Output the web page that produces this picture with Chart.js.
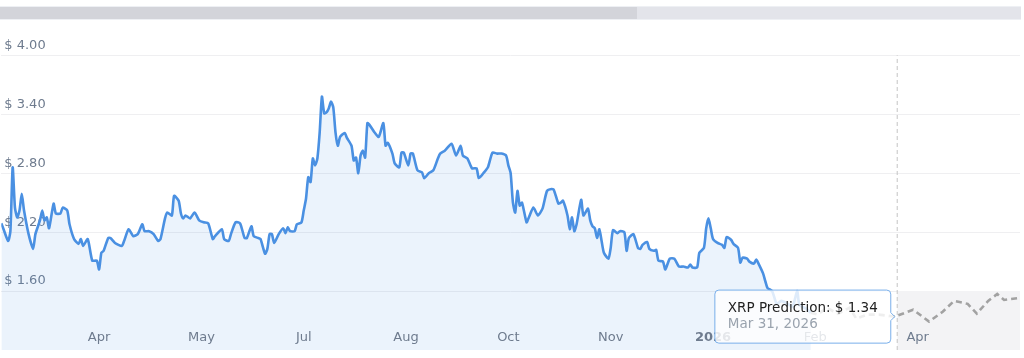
<!DOCTYPE html>
<html><head><meta charset="utf-8">
<script src="https://cdn.jsdelivr.net/npm/chart.js@4"></script>
<style>
html,body{margin:0;padding:0;background:#fff;}
#wrap{position:relative;width:1024px;height:358px;overflow:hidden;}
canvas{position:absolute;left:0;top:0;}
#bar{position:absolute;left:0;top:6px;width:1021px;height:12px;border-top:1px solid #eef0f4;border-bottom:1px solid #eef0f4;display:flex;}
#bar .a{width:637px;background:#d3d4da;}
#bar .b{flex:1;background:#e3e4ea;}
</style></head><body>
<div id="wrap"><canvas id="c" width="1024" height="358"></canvas><div id="bar"><div class="a"></div><div class="b"></div></div></div>
<script>
// Days counted from 2025-03-01
const START = Date.UTC(2025, 2, 1);
const histDays = [2,3,5,6,7,8,9,10,11,12,14,16,17,19,20,21,22,23,25,26,28,29,31,32,34,36,37,38,40,42,44,45,46,47,49,50,52,55,56,58,60,62,64,65,67,69,71,72,74,75,77,78,80,81,82,83,85,87,89,91,93,95,96,99,100,102,103,105,107,109,110,112,113,115,116,118,119,120,121,122,124,126,127,128,129,131,132,134,135,136,137,138,139,140,141,142,143,144,145,146,147,148,149,150,151,153,154,156,157,158,159,160,161,162,163,164,166,168,170,171,172,174,175,177,178,179,181,182,183,185,187,188,190,192,194,195,197,200,202,204,205,207,209,211,212,214,216,218,220,222,224,225,226,227,228,229,230,231,233,234,236,238,240,242,244,245,247,248,249,251,252,253,254,255,257,258,260,261,262,263,264,265,266,267,269,270,271,273,274,276,277,278,280,282,283,284,286,287,289,290,291,293,294,296,298,300,302,304,305,306,308,309,311,312,313,314,315,317,319,320,321,323,324,326,327,328,330,331,333,334,335,337,338,339,341,343,345,348,350,352,353,356,358];
const histValues = [2.29,2.23,2.11,2.21,2.86,2.45,2.35,2.42,2.59,2.42,2.18,2.03,2.18,2.32,2.42,2.32,2.35,2.24,2.49,2.39,2.39,2.45,2.42,2.28,2.13,2.08,2.13,2.06,2.13,1.91,1.91,1.82,1.99,2.01,2.14,2.14,2.09,2.06,2.11,2.23,2.16,2.18,2.28,2.21,2.21,2.18,2.11,2.13,2.34,2.40,2.37,2.57,2.52,2.39,2.34,2.37,2.34,2.40,2.32,2.30,2.29,2.13,2.16,2.23,2.13,2.11,2.18,2.30,2.29,2.14,2.14,2.26,2.16,2.14,2.13,1.98,2.03,2.18,2.18,2.09,2.18,2.24,2.19,2.25,2.21,2.21,2.28,2.30,2.42,2.54,2.76,2.71,2.95,2.88,2.95,3.21,3.58,3.41,3.42,3.46,3.53,3.47,3.21,3.08,3.17,3.21,3.16,3.08,2.93,2.96,2.80,2.98,3.03,2.96,3.31,3.29,3.22,3.17,3.31,3.08,3.11,3.00,2.90,2.86,3.01,3.01,2.88,3.00,3.00,2.83,2.81,2.75,2.80,2.83,2.95,3.00,3.03,3.10,2.98,3.08,2.98,2.95,2.85,2.85,2.75,2.80,2.86,3.01,3.00,3.00,2.98,2.88,2.80,2.50,2.40,2.62,2.47,2.50,2.30,2.35,2.45,2.37,2.44,2.62,2.64,2.63,2.49,2.50,2.52,2.37,2.23,2.35,2.21,2.28,2.53,2.37,2.44,2.32,2.26,2.24,2.14,2.23,2.11,1.99,1.93,2.04,2.22,2.19,2.21,2.20,2.01,2.14,2.18,2.04,2.03,2.07,2.10,2.03,2.01,2.02,1.91,1.90,1.82,1.93,1.93,1.85,1.85,1.84,1.87,1.84,1.84,1.99,2.04,2.24,2.34,2.24,2.13,2.09,2.07,2.04,2.15,2.12,2.08,2.04,1.89,1.94,1.93,1.90,1.88,1.92,1.88,1.78,1.70,1.63,1.60,1.47,1.50,1.47,1.44,1.60,1.46,1.42,1.38];
const predDays = [358,361,365,370,375,378,383,388,395,403,410,416,421,427,431,436,440,443,450];
const predValues = [1.38,1.36,1.43,1.37,1.43,1.32,1.36,1.36,1.34,1.41,1.29,1.39,1.50,1.47,1.37,1.50,1.57,1.51,1.53];
const zoneDays = [396, 450];
const zoneValues = [1.60, 1.60];
const cursorDays = [396, 396];
const cursorValues = [1.00, 4.00];
const xTickDays = [45, 90, 135, 180, 225, 270, 315, 360, 405];
const xTickLabels = ['Apr','May','Jul','Aug','Oct','Nov','2026','Feb','Apr'];
const yTickValues = [1.60, 2.20, 2.80, 3.40, 4.00];
const tooltipDay = 395;

const MONTHS = ['Jan','Feb','Mar','Apr','May','Jun','Jul','Aug','Sep','Oct','Nov','Dec'];
function fmtDate(day){ const d = new Date(START + day*86400000); return MONTHS[d.getUTCMonth()] + ' ' + d.getUTCDate() + ', ' + d.getUTCFullYear(); }
const pts = (ds, vs) => ds.map((x, i) => ({x: x, y: vs[i]}));

Chart.defaults.font.family = "'DejaVu Sans', Verdana, sans-serif";
const chart = new Chart(document.getElementById('c'), {
  type: 'line',
  data: { datasets: [
    {label:'XRP Price', data: pts(histDays, histValues), borderColor:'#4a90e2', borderWidth:2.6, backgroundColor:'rgba(74,144,226,0.11)', fill:'start', pointRadius:0, pointHoverRadius:0, tension:0.2, order:2},
    {label:'XRP Prediction', data: pts(predDays, predValues), borderColor:'#a2a2a2', borderWidth:2.6, borderDash:[6,4], fill:false, pointRadius:0, pointHoverRadius:0, tension:0, order:1},
    {label:'Forecast zone', data: pts(zoneDays, zoneValues), borderWidth:0, borderColor:'rgba(0,0,0,0)', backgroundColor:'#f3f3f5', fill:'start', pointRadius:0, pointHoverRadius:0, order:4},
    {label:'Cursor', data: pts(cursorDays, cursorValues), borderColor:'#c4c4c4', borderWidth:1, borderDash:[4,3], fill:false, pointRadius:0, pointHoverRadius:0, order:3}
  ]},
  options: {
    responsive:false, animation:false, events:[],
    layout:{padding:{top:22, right:4, left:0, bottom:8}},
    scales:{
      x:{type:'linear', min:2, max:450,
        grid:{display:false, drawTicks:false}, border:{display:false},
        afterBuildTicks: s => { s.ticks = xTickDays.map(v => ({value:v})); },
        afterFit: s => { s.height = 0; s.paddingLeft = 0; s.paddingRight = 0; },
        ticks:{z:1, mirror:true, padding:4.5, maxRotation:0, autoSkip:false, color:'#6e7b8e',
          font: c => ({size:13, weight: (c.tick && c.tick.value === 315) ? 'bold' : 'normal'}),
          callback: (v) => xTickLabels[xTickDays.indexOf(v)]}},
      y:{min:1.0, max:4.34,
        grid:{color:'#efeff1', drawTicks:false}, border:{display:false},
        afterBuildTicks: s => { s.ticks = yTickValues.map(v => ({value:v})); },
        afterFit: s => { s.width = 0; s.paddingTop = 0; s.paddingBottom = 0; },
        ticks:{mirror:true, padding:3, labelOffset:-10, color:'#6e7b8e', font:{size:13},
          callback: v => '$ ' + Number(v).toFixed(2)}}
    },
    plugins:{
      legend:{display:false},
      tooltip:{
        enabled:true,
        backgroundColor:'rgba(255,255,255,0.82)',
        borderColor:'#78aeea', borderWidth:1, cornerRadius:4,
        caretSize:4, caretPadding:0,
        xAlign:'right', yAlign:'center',
        padding:{top:11, bottom:11, left:13, right:13},
        displayColors:false,
        bodyColor:'#222222', bodyFont:{size:13.5, lineHeight:1.15},
        footerColor:'#9aa3ae', footerFont:{size:13.5, weight:'normal', lineHeight:1.15}, footerMarginTop:0,
        callbacks:{
          title: () => '',
          label: c => c.dataset.label + ': $ ' + c.parsed.y.toFixed(2),
          footer: items => fmtDate(items[0].parsed.x)
        }
      }
    }
  }
});
const pi = predDays.indexOf(tooltipDay);
chart.tooltip.setActiveElements([{datasetIndex:1, index:pi}], {x:0, y:0});
chart.update();
</script>
</body></html>
